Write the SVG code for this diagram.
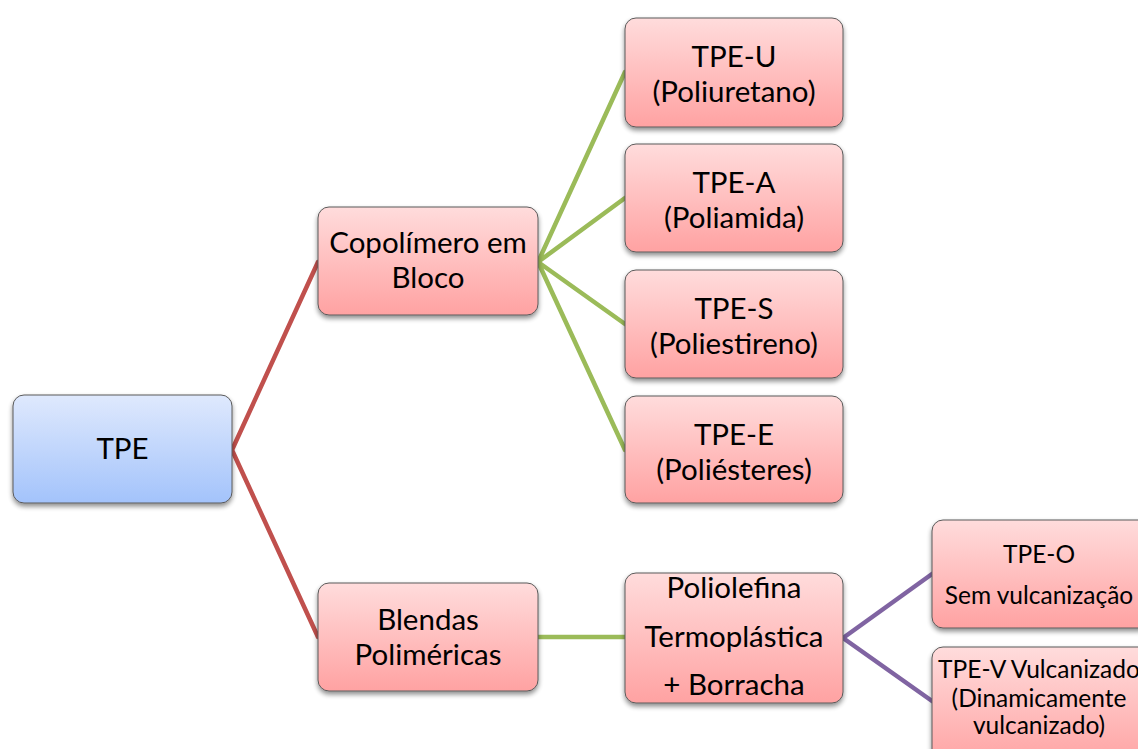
<svg xmlns="http://www.w3.org/2000/svg" width="1138" height="749" viewBox="0 0 1138 749">
  <defs>
    <linearGradient id="gPink" x1="0" y1="0" x2="0" y2="1">
      <stop offset="0" stop-color="#ffdcdc"/>
      <stop offset="1" stop-color="#ffa2a2"/>
    </linearGradient>
    <linearGradient id="gBlue" x1="0" y1="0" x2="0" y2="1">
      <stop offset="0" stop-color="#dfe9fd"/>
      <stop offset="1" stop-color="#a3c3fb"/>
    </linearGradient>
    <filter id="shadow" x="-10%" y="-10%" width="120%" height="130%">
      <feGaussianBlur in="SourceAlpha" stdDeviation="2.5"/>
      <feOffset dx="0" dy="3" result="b"/>
      <feComponentTransfer><feFuncA type="linear" slope="0.45"/></feComponentTransfer>
      <feMerge><feMergeNode/><feMergeNode in="SourceGraphic"/></feMerge>
    </filter>
  </defs>
  <style>
    .box { stroke: #5a5a5a; stroke-width: 1; filter: url(#shadow); }
    .pink { fill: url(#gPink); }
    .blue { fill: url(#gBlue); }
    .t { font-family: Lato, "Liberation Sans", sans-serif; font-size: 29.5px; fill: #000; text-anchor: middle; }
    .s { font-family: Lato, "Liberation Sans", sans-serif; font-size: 24.5px; fill: #000; text-anchor: middle; }
    .c { fill: none; stroke-width: 4.5; stroke-linecap: round; stroke-linejoin: round; }
    .red { stroke: #c0504d; }
    .green { stroke: #9bbb59; }
    .purple { stroke: #8064a2; }
  </style>
  <rect width="1138" height="749" fill="#ffffff"/>

  <g id="connectors">
    <polyline class="c red" points="318,262 232,450 318,637"/>
    <path class="c green" d="M625,72 L538,262 L625,198 M538,262 L625,324 M538,262 L625,450"/>
    <line class="c green" x1="538" y1="637" x2="625" y2="637"/>
    <polyline class="c purple" points="932,574 843,638 932,701"/>
  </g>

  <g id="tpe">
    <rect class="box blue" x="13" y="395" width="219" height="108" rx="11"/>
    <text class="t" x="122.5" y="459">TPE</text>
  </g>

  <g id="copolimero">
    <rect class="box pink" x="318" y="207" width="220" height="108" rx="11"/>
    <text class="t" x="428" y="253">Copolímero em</text>
    <text class="t" x="428" y="288">Bloco</text>
  </g>

  <g id="blendas">
    <rect class="box pink" x="318" y="583" width="220" height="108" rx="11"/>
    <text class="t" x="428" y="630">Blendas</text>
    <text class="t" x="428" y="665">Poliméricas</text>
  </g>

  <g id="tpe-u">
    <rect class="box pink" x="625" y="18" width="218" height="109" rx="11"/>
    <text class="t" x="734" y="67">TPE-U</text>
    <text class="t" x="734" y="102">(Poliuretano)</text>
  </g>

  <g id="tpe-a">
    <rect class="box pink" x="625" y="144" width="218" height="108" rx="11"/>
    <text class="t" x="734" y="193">TPE-A</text>
    <text class="t" x="734" y="228">(Poliamida)</text>
  </g>

  <g id="tpe-s">
    <rect class="box pink" x="625" y="270" width="218" height="108" rx="11"/>
    <text class="t" x="734" y="319">TPE-S</text>
    <text class="t" x="734" y="354">(Poliestireno)</text>
  </g>

  <g id="tpe-e">
    <rect class="box pink" x="625" y="396" width="218" height="107" rx="11"/>
    <text class="t" x="734" y="445">TPE-E</text>
    <text class="t" x="734" y="480">(Poliésteres)</text>
  </g>

  <g id="poliolefina">
    <rect class="box pink" x="625" y="573" width="218" height="130" rx="11"/>
    <text class="t" x="734" y="598">Poliolefina</text>
    <text class="t" x="734" y="647">Termoplástica</text>
    <text class="t" x="734" y="695">+ Borracha</text>
  </g>

  <g id="tpe-o">
    <rect class="box pink" x="932" y="520" width="218" height="108" rx="11"/>
    <text class="s" x="1039" y="563">TPE-O</text>
    <text class="s" x="1039" y="604">Sem vulcanização</text>
  </g>

  <g id="tpe-v">
    <rect class="box pink" x="932" y="647" width="218" height="120" rx="11"/>
    <text class="s" x="1039" y="678">TPE-V Vulcanizado</text>
    <text class="s" x="1039" y="707">(Dinamicamente</text>
    <text class="s" x="1039" y="734">vulcanizado)</text>
  </g>
</svg>
